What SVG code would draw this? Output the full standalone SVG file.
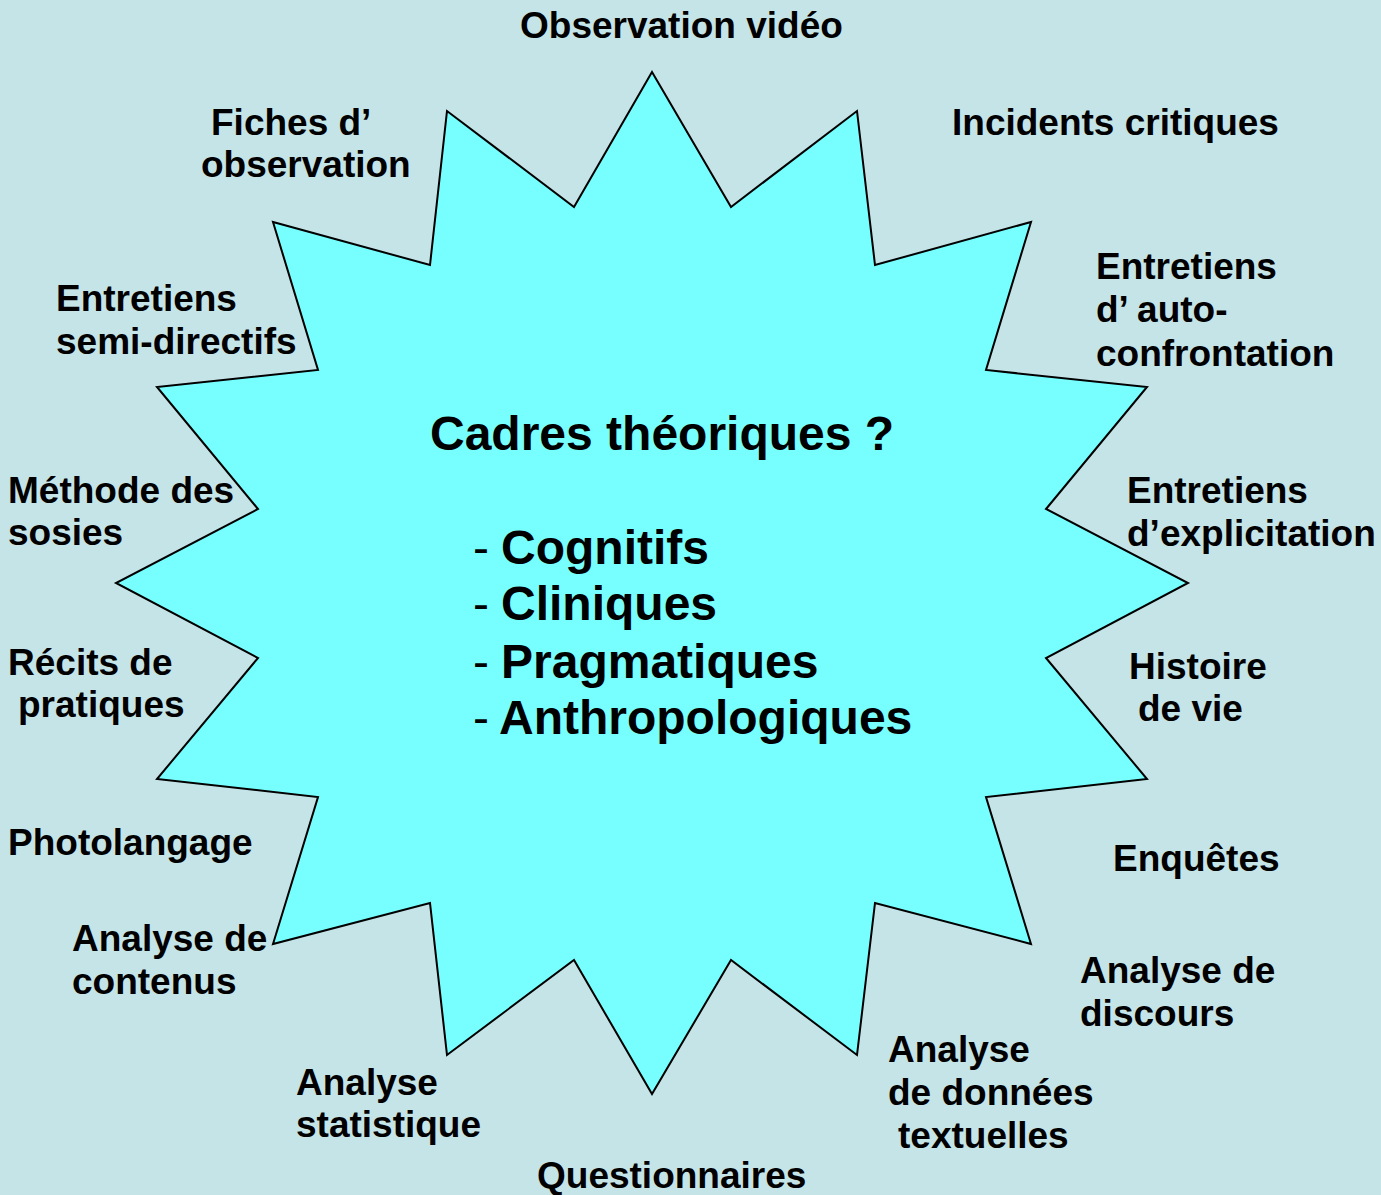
<svg xmlns="http://www.w3.org/2000/svg" width="1381" height="1195" viewBox="0 0 1381 1195">
<style>
.lbl{font-family:"Liberation Sans",Arial,sans-serif;font-weight:bold;font-size:37px;fill:#000}
.ttl{font-family:"Liberation Sans",Arial,sans-serif;font-weight:bold;font-size:48px;fill:#000}
.dash{font-family:"Liberation Sans",Arial,sans-serif;font-weight:normal;font-size:48px;fill:#000}
.star{fill:#77FFFF;stroke:#000;stroke-width:2;stroke-linejoin:miter}
</style>
<rect x="0" y="0" width="1381" height="1195" fill="#C4E4E8"/>
<g id="star">
<polygon class="star" points="652,72 731,207 857,111 875,265 1031,222 986,370 1147,387 1046,509 1188,583 1046,658 1147,779 986,797 1031,944 875,903 857,1055 731,960 652,1094 574,960 447,1055 430,903 273,944 318,797 157,779 258,658 116,583 258,509 157,387 318,370 273,222 430,265 447,111 574,207"/>
</g>
<g id="center">
<text class="ttl" x="430" y="450">Cadres théoriques ?</text>
<text class="dash" x="473" y="564">-</text><text class="ttl" x="501" y="564">Cognitifs</text>
<text class="dash" x="473" y="620">-</text><text class="ttl" x="501" y="620">Cliniques</text>
<text class="dash" x="473" y="678">-</text><text class="ttl" x="501" y="678">Pragmatiques</text>
<text class="dash" x="473" y="734">-</text><text class="ttl" x="499" y="734">Anthropologiques</text>
</g>
<g id="connectors"></g>
<g id="n-observation-video"><text class="lbl" x="520" y="38">Observation vidéo</text></g>
<g id="n-incidents"><text class="lbl" x="952" y="135">Incidents critiques</text></g>
<g id="n-entretiens-auto"><text class="lbl" x="1096" y="279">Entretiens</text><text class="lbl" x="1096" y="322">d’ auto-</text><text class="lbl" x="1096" y="366">confrontation</text></g>
<g id="n-entretiens-explic"><text class="lbl" x="1127" y="503">Entretiens</text><text class="lbl" x="1127" y="546">d’explicitation</text></g>
<g id="n-histoire"><text class="lbl" x="1129" y="679">Histoire</text><text class="lbl" x="1138" y="721">de vie</text></g>
<g id="n-enquetes"><text class="lbl" x="1113" y="871">Enquêtes</text></g>
<g id="n-analyse-discours"><text class="lbl" x="1080" y="983">Analyse de</text><text class="lbl" x="1080" y="1026">discours</text></g>
<g id="n-analyse-textuelles"><text class="lbl" x="888" y="1062">Analyse</text><text class="lbl" x="888" y="1105">de données</text><text class="lbl" x="898" y="1148">textuelles</text></g>
<g id="n-questionnaires"><text class="lbl" x="537" y="1188">Questionnaires</text></g>
<g id="n-analyse-statistique"><text class="lbl" x="296" y="1095">Analyse</text><text class="lbl" x="296" y="1137">statistique</text></g>
<g id="n-analyse-contenus"><text class="lbl" x="72" y="951">Analyse de</text><text class="lbl" x="72" y="994">contenus</text></g>
<g id="n-photolangage"><text class="lbl" x="8" y="855">Photolangage</text></g>
<g id="n-recits"><text class="lbl" x="8" y="675">Récits de</text><text class="lbl" x="18" y="717">pratiques</text></g>
<g id="n-methode-sosies"><text class="lbl" x="8" y="503">Méthode des</text><text class="lbl" x="8" y="545">sosies</text></g>
<g id="n-entretiens-semi"><text class="lbl" x="56" y="311">Entretiens</text><text class="lbl" x="56" y="354">semi-directifs</text></g>
<g id="n-fiches"><text class="lbl" x="211" y="135">Fiches d’</text><text class="lbl" x="201" y="177">observation</text></g>
</svg>
